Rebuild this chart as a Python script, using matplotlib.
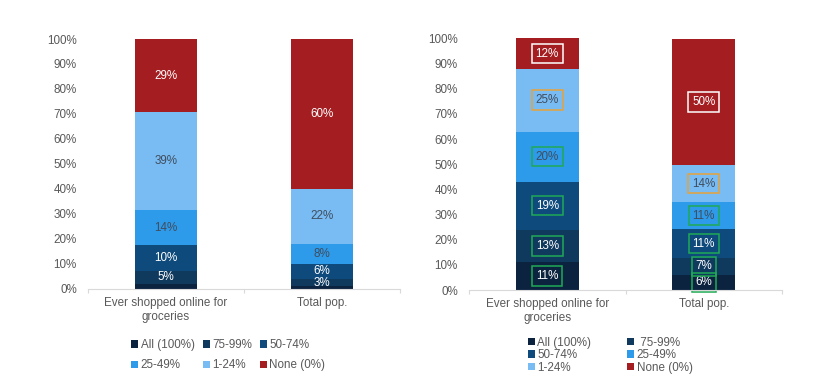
import matplotlib.pyplot as plt
import numpy as np

plt.rcParams['font.family'] = ['Liberation Sans', 'DejaVu Sans']

# data
categories = ['Ever shopped online for\ngroceries', 'Total pop.']
series = ['All (100%)', '75-99%', '50-74%', '25-49%', '1-24%', 'None (0%)']
colors = ['#0C2340', '#10395E', '#0E4A7C', '#2E9BEA', '#78BCF3', '#A31D21']

# left chart, percent of each bar (rows = series, cols = categories)
left_vals = [[2.1, 1.0],
             [5.1, 3.0],
             [10.2, 6.0],
             [14.0, 8.0],
             [39.4, 22.0],
             [29.1, 60.0]]
# right chart
right_vals = [[11.0, 6.0],
              [13.0, 6.7],
              [19.0, 11.4],
              [20.0, 11.0],
              [25.0, 14.4],
              [12.0, 50.4]]

right_legend_names = ['All (100%)', ' 75-99%', '50-74%', '25-49%', '1-24%', 'None (0%)']

text_light = 'white'
text_dark = '#404D5E'
label_colors = [text_light, text_light, text_light, text_dark, text_dark, text_light]
box_colors = ['#1FAA55', '#1FAA55', '#1FAA55', '#1FAA55', '#E8A33A', 'white']
tick_color = '#595959'

fig = plt.figure(figsize=(8.25, 3.9), dpi=100)
ax1 = fig.add_axes([0.1067, 0.259, 0.378, 0.641])
ax2 = fig.add_axes([0.5685, 0.2564, 0.3794, 0.645])

x = np.arange(len(categories))


def draw_stack(ax, vals, boxed, min_label):
    bottom = np.zeros(len(categories))
    handles = []
    for i, row in enumerate(vals):
        row = np.array(row) / 100.0
        h = ax.bar(x, row, 0.40, bottom=bottom, color=colors[i], linewidth=0)
        handles.append(h)
        for j in range(len(categories)):
            v = vals[i][j]
            if v < min_label:
                continue
            kw = {}
            if boxed:
                kw['bbox'] = dict(boxstyle='square,pad=0.32', facecolor='none',
                                  edgecolor=box_colors[i], linewidth=1.1)
            ax.text(x[j], bottom[j] + row[j] / 2, '{:.0f}%'.format(v),
                    ha='center', va='center', fontsize=8.4,
                    color=label_colors[i], **kw)
        bottom = bottom + row
    ax.set_ylim(0, 1)
    ax.set_xlim(-0.5, 1.5)
    ax.set_yticks(np.arange(0, 1.01, 0.1))
    ax.set_yticklabels(['{:.0f}%'.format(t * 100) for t in np.arange(0, 1.01, 0.1)])
    ax.tick_params(axis='y', length=0, labelsize=8.4, labelcolor=tick_color, pad=8)
    ax.set_xticks(x)
    ax.set_xticklabels(categories, fontsize=8.4, color=tick_color, linespacing=1.2)
    ax.tick_params(axis='x', length=0, pad=6)
    ax.set_xticks([-0.5, 0.5, 1.5], minor=True)
    ax.tick_params(axis='x', which='minor', length=3, color='#D9D9D9', width=0.8)
    for s in ['top', 'right', 'left']:
        ax.spines[s].set_visible(False)
    ax.spines['bottom'].set_color('#D9D9D9')
    ax.spines['bottom'].set_zorder(5)
    return handles


h1 = draw_stack(ax1, left_vals, False, 3)
h2 = draw_stack(ax2, right_vals, True, 1)

# left legend: 2 rows x 3 cols (matplotlib fills column first)
order1 = [0, 3, 1, 4, 2, 5]
ax1.legend([h1[i] for i in order1], [series[i] for i in order1], ncol=3,
           loc='upper left', bbox_to_anchor=(0.152, 0.145), bbox_transform=fig.transFigure,
           frameon=False, fontsize=8.4, handlelength=0.6, handleheight=0.6,
           handletextpad=0.2, columnspacing=0.7, labelspacing=0.7, borderpad=0,
           labelcolor=tick_color)

# right legend: 3 rows x 2 cols
order2 = [0, 2, 4, 1, 3, 5]
ax2.legend([h2[i] for i in order2], [right_legend_names[i] for i in order2], ncol=2,
           loc='upper left', bbox_to_anchor=(0.633, 0.152), bbox_transform=fig.transFigure,
           frameon=False, fontsize=8.4, handlelength=0.6, handleheight=0.6,
           handletextpad=0.2, columnspacing=3.1, labelspacing=0.05, borderpad=0,
           labelcolor=tick_color)

fig.savefig('out.png', dpi=100)
